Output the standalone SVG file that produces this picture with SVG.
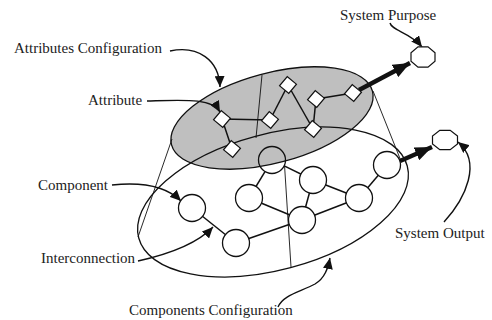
<svg xmlns="http://www.w3.org/2000/svg" width="492" height="320" viewBox="0 0 492 320">
<style>
.lbl{font-family:"Liberation Serif","Times New Roman",serif;font-size:15px;fill:#222}
.edge{stroke:#111;stroke-width:1.5;fill:none}
.thin{stroke:#111;stroke-width:0.9;fill:none}
.call{stroke:#111;stroke-width:1.4;fill:none;marker-end:url(#ah)}
.thick{stroke:#111;stroke-width:4.5;fill:none;marker-end:url(#bh)}
.sq{fill:#fff;stroke:#111;stroke-width:1.2}
.cir{fill:#fff;stroke:#111;stroke-width:1.3}
.cir.open{fill:none}
.oct{fill:#fff;stroke:#111;stroke-width:1.2}
</style>
<defs>
<marker id="ah" markerUnits="userSpaceOnUse" markerWidth="12" markerHeight="10" refX="11" refY="5" orient="auto"><path d="M0,0 L11,5 L0,10 Z" fill="#111"/></marker>
<marker id="bh" markerUnits="userSpaceOnUse" markerWidth="18" markerHeight="14" refX="17" refY="7" orient="auto"><path d="M0,0 L17,7 L0,14 Z" fill="#111"/></marker>
</defs>
<rect width="492" height="320" fill="#fff"/>
<g id="attributes-configuration">
<ellipse cx="272" cy="118" rx="104" ry="45" transform="rotate(-15 272 118)" fill="#bfbfbf" stroke="#111" stroke-width="1.3"/>
</g>
<g id="components-configuration">
<ellipse cx="273" cy="202" rx="139" ry="68" transform="rotate(-15 273 202)" fill="none" stroke="#111" stroke-width="1.3"/>
</g>
<g id="connectors">
<line class="thin" x1="172" y1="139" x2="138" y2="237"/>
<line class="thin" x1="373" y1="91" x2="401" y2="161"/>
<line class="thin" x1="262" y1="75" x2="256" y2="138"/>
<line class="thin" x1="284.5" y1="165" x2="291" y2="267"/>
<line class="edge" x1="222" y1="119" x2="270" y2="120"/>
<line class="edge" x1="270" y1="120" x2="288" y2="85"/>
<line class="edge" x1="288" y1="85" x2="313" y2="129"/>
<line class="edge" x1="316" y1="99" x2="313" y2="129"/>
<line class="edge" x1="316" y1="99" x2="353" y2="93"/>
<line class="edge" x1="222" y1="119" x2="232" y2="149"/>
<line class="edge" x1="192" y1="208" x2="236" y2="243"/>
<line class="edge" x1="236" y1="243" x2="302" y2="220"/>
<line class="edge" x1="249" y1="198" x2="265" y2="171.6"/>
<line class="edge" x1="249" y1="198" x2="302" y2="220"/>
<line class="edge" x1="284.2" y1="165.9" x2="313" y2="180"/>
<line class="edge" x1="313" y1="180" x2="302" y2="220"/>
<line class="edge" x1="313" y1="180" x2="359" y2="198"/>
<line class="edge" x1="302" y1="220" x2="359" y2="198"/>
<line class="edge" x1="359" y1="198" x2="387" y2="165"/>
<line class="thick" x1="359" y1="90" x2="410" y2="63"/>
<line class="thick" x1="400" y1="161" x2="432" y2="147"/>
<path class="call" d="M170,51 C198,45 219,60 220,87"/>
<path class="call" d="M147,101 C185,100 212,98 220,112"/>
<path class="call" d="M112,185 C140,182 166,186 181,201"/>
<path class="call" d="M138,261 C165,255 196,245 213,227"/>
<path class="call" d="M390,23 C392,31 410,32 422,47"/>
<path class="call" d="M444,222 C466,198 482,162 458,142"/>
<path class="call" d="M278,307 C283,295 300,292 315,284 C325,278 328,268 330,258"/>
</g>
<g id="attribute-1"><rect class="sq" x="-6" y="-6" width="12" height="12" transform="translate(222,119) rotate(40)"/></g>
<g id="attribute-2"><rect class="sq" x="-6" y="-6" width="12" height="12" transform="translate(270,120) rotate(40)"/></g>
<g id="attribute-3"><rect class="sq" x="-6" y="-6" width="12" height="12" transform="translate(288,85) rotate(40)"/></g>
<g id="attribute-4"><rect class="sq" x="-6" y="-6" width="12" height="12" transform="translate(316,99) rotate(40)"/></g>
<g id="attribute-5"><rect class="sq" x="-6" y="-6" width="12" height="12" transform="translate(353,93) rotate(40)"/></g>
<g id="attribute-6"><rect class="sq" x="-6" y="-6" width="12" height="12" transform="translate(313,129) rotate(40)"/></g>
<g id="attribute-7"><rect class="sq" x="-6" y="-6" width="12" height="12" transform="translate(232,149) rotate(40)"/></g>
<g id="component-1"><circle class="cir" cx="192" cy="208" r="13.5"/></g>
<g id="component-2"><circle class="cir" cx="236" cy="243" r="13.5"/></g>
<g id="component-3"><circle class="cir" cx="249" cy="198" r="13.5"/></g>
<g id="component-4"><circle class="cir open" cx="272" cy="160" r="13.5"/></g>
<g id="component-5"><circle class="cir" cx="313" cy="180" r="13.5"/></g>
<g id="component-6"><circle class="cir" cx="302" cy="220" r="13.5"/></g>
<g id="component-7"><circle class="cir" cx="359" cy="198" r="13.5"/></g>
<g id="component-8"><circle class="cir" cx="387" cy="165" r="13.5"/></g>
<g id="system-purpose"><polygon class="oct" points="435,52.8 428,46.8 418,46.8 411,52.8 411,61.2 418,67.2 428,67.2 435,61.2"/></g>
<g id="system-output"><polygon class="oct" points="457.5,136 450.2,130.3 439.8,130.3 432.5,136 432.5,144 439.8,149.7 450.2,149.7 457.5,144"/></g>
<g id="labels">
<text class="lbl" x="14" y="52.5">Attributes Configuration</text>
<text class="lbl" x="88" y="105">Attribute</text>
<text class="lbl" x="340" y="20">System Purpose</text>
<text class="lbl" x="38" y="190">Component</text>
<text class="lbl" x="41" y="263">Interconnection</text>
<text class="lbl" x="395" y="238">System Output</text>
<text class="lbl" x="129" y="315">Components Configuration</text>
</g>
</svg>
